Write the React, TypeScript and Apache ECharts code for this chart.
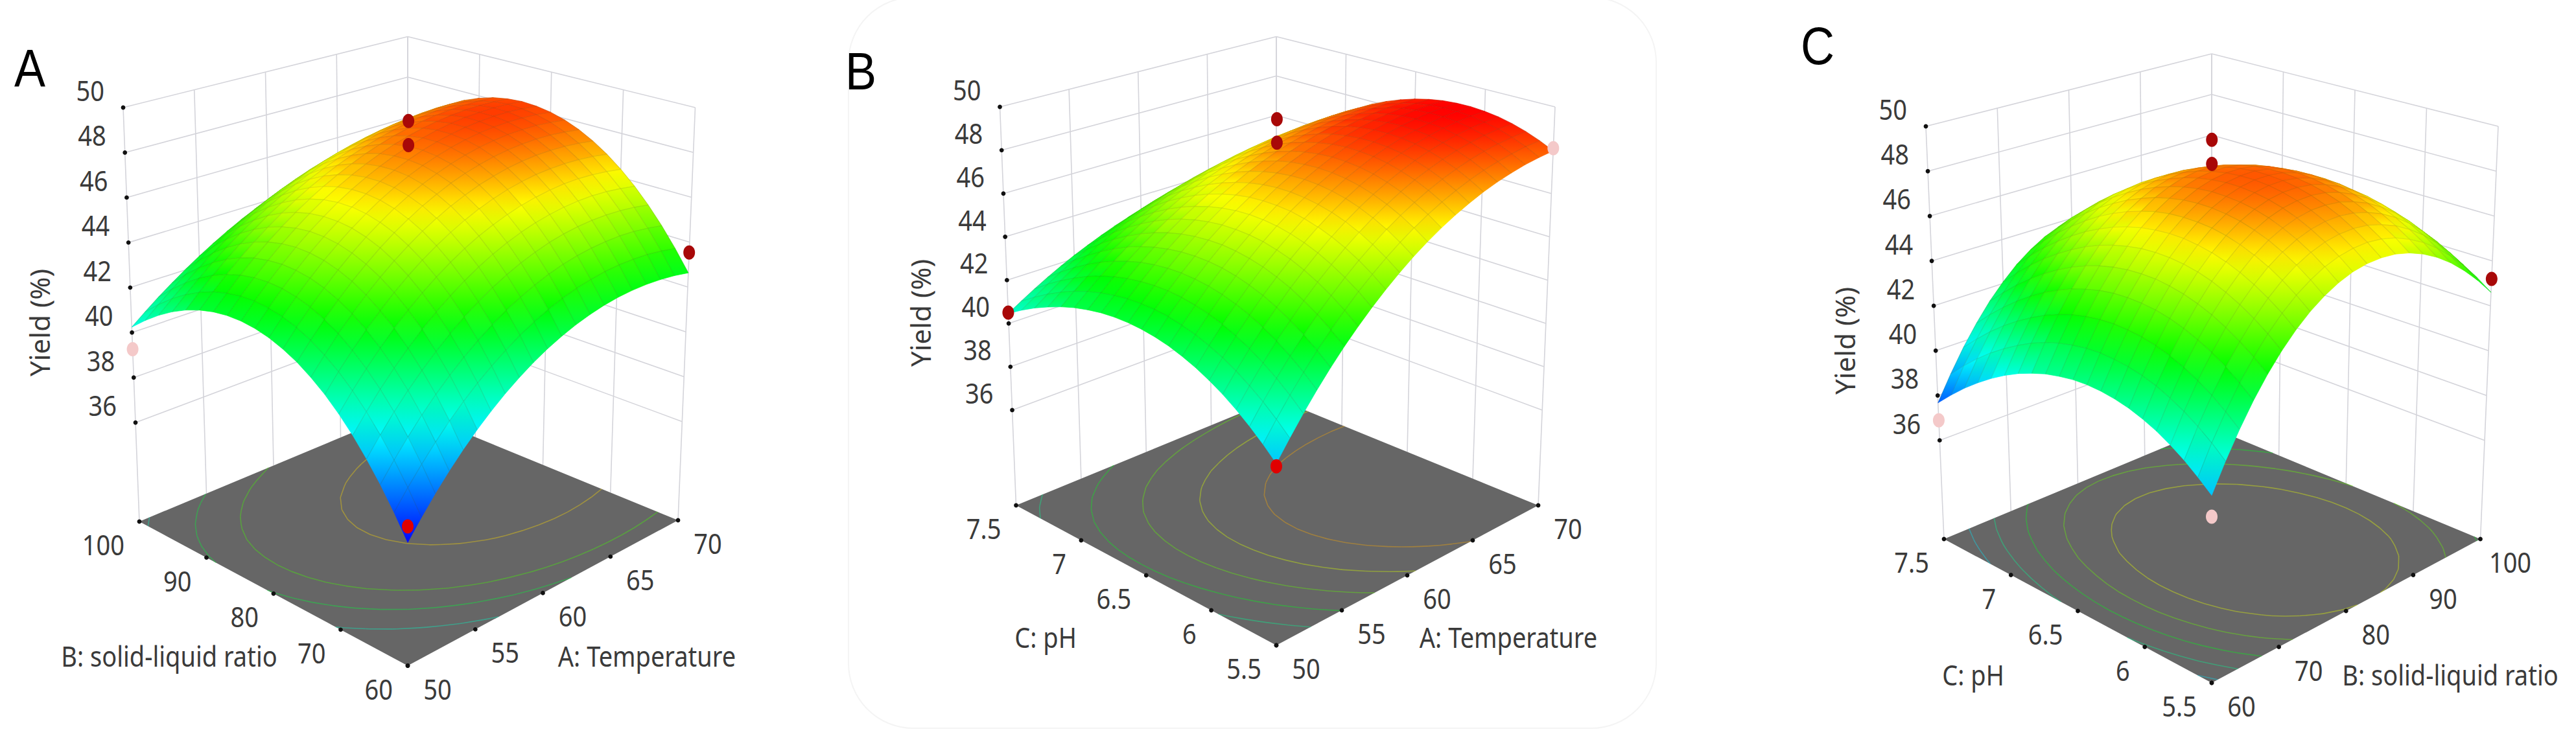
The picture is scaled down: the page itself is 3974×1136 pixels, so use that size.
import React, { useEffect, useRef } from 'react';
import * as echarts from 'echarts';

// yield (%), rows run along the left floor axis,
// columns along the right floor axis (21 x 21 mesh like the original plot)
const surfaceA: number[][] = [
  [36.49,37.23,37.93,38.58,39.19,39.75,40.26,40.73,41.15,41.53,41.86,42.14,42.38,42.57,42.72,42.82,42.87,42.88,42.84,42.76,42.63],
  [37.43,38.17,38.86,39.51,40.12,40.68,41.19,41.65,42.07,42.45,42.78,43.06,43.30,43.49,43.63,43.73,43.78,43.79,43.75,43.66,43.53],
  [38.29,39.03,39.72,40.37,40.97,41.52,42.03,42.49,42.91,43.29,43.61,43.89,44.13,44.32,44.46,44.56,44.61,44.62,44.58,44.49,44.36],
  [39.07,39.80,40.50,41.14,41.73,42.28,42.79,43.25,43.67,44.04,44.36,44.64,44.87,45.07,45.21,45.30,45.35,45.36,45.32,45.24,45.11],
  [39.78,40.50,41.19,41.83,42.42,42.97,43.47,43.93,44.34,44.71,45.03,45.31,45.54,45.73,45.87,45.97,46.02,46.03,45.99,45.90,45.78],
  [40.40,41.12,41.80,42.43,43.02,43.56,44.06,44.51,44.92,45.29,45.61,45.88,46.11,46.30,46.44,46.54,46.60,46.61,46.57,46.49,46.37],
  [40.95,41.66,42.33,42.95,43.53,44.07,44.57,45.02,45.42,45.78,46.10,46.38,46.61,46.80,46.94,47.04,47.09,47.10,47.07,47.00,46.88],
  [41.41,42.11,42.78,43.39,43.97,44.50,44.99,45.43,45.84,46.19,46.51,46.78,47.02,47.20,47.35,47.45,47.51,47.52,47.49,47.42,47.31],
  [41.80,42.49,43.14,43.75,44.32,44.84,45.33,45.77,46.16,46.52,46.83,47.11,47.34,47.52,47.67,47.77,47.83,47.85,47.83,47.76,47.66],
  [42.10,42.79,43.43,44.03,44.58,45.10,45.58,46.01,46.41,46.76,47.07,47.34,47.57,47.76,47.91,48.01,48.08,48.10,48.09,48.03,47.93],
  [42.33,43.00,43.63,44.22,44.77,45.28,45.75,46.18,46.57,46.92,47.23,47.50,47.72,47.91,48.06,48.17,48.24,48.27,48.26,48.21,48.12],
  [42.48,43.13,43.75,44.33,44.87,45.37,45.83,46.26,46.64,46.99,47.29,47.56,47.79,47.98,48.13,48.25,48.32,48.36,48.36,48.31,48.23],
  [42.55,43.19,43.79,44.36,44.89,45.38,45.83,46.25,46.63,46.97,47.27,47.54,47.77,47.96,48.12,48.24,48.32,48.36,48.37,48.34,48.27],
  [42.54,43.16,43.75,44.30,44.82,45.30,45.75,46.16,46.53,46.87,47.17,47.44,47.67,47.86,48.02,48.14,48.23,48.28,48.30,48.28,48.22],
  [42.45,43.05,43.63,44.17,44.67,45.14,45.58,45.98,46.35,46.68,46.98,47.25,47.48,47.68,47.84,47.97,48.06,48.12,48.15,48.14,48.10],
  [42.28,42.87,43.42,43.95,44.44,44.90,45.33,45.72,46.08,46.41,46.71,46.97,47.20,47.40,47.57,47.71,47.81,47.88,47.91,47.92,47.89],
  [42.03,42.60,43.14,43.64,44.12,44.57,44.99,45.37,45.73,46.05,46.35,46.61,46.85,47.05,47.22,47.36,47.47,47.55,47.60,47.62,47.61],
  [41.70,42.25,42.77,43.26,43.72,44.16,44.56,44.94,45.29,45.61,45.90,46.17,46.40,46.61,46.78,46.93,47.05,47.14,47.20,47.24,47.24],
  [41.29,41.82,42.32,42.79,43.24,43.66,44.06,44.43,44.77,45.08,45.37,45.64,45.87,46.08,46.26,46.42,46.55,46.65,46.73,46.78,46.80],
  [40.80,41.31,41.79,42.24,42.68,43.08,43.47,43.83,44.16,44.47,44.76,45.02,45.26,45.47,45.66,45.82,45.96,46.08,46.17,46.24,46.28],
  [40.24,40.72,41.18,41.61,42.03,42.42,42.79,43.14,43.47,43.77,44.06,44.32,44.56,44.77,44.97,45.14,45.29,45.42,45.53,45.61,45.68],
];

const surfaceB: number[][] = [
  [39.15,39.96,40.74,41.48,42.18,42.84,43.45,44.03,44.57,45.07,45.54,45.96,46.34,46.68,46.98,47.25,47.47,47.65,47.80,47.90,47.97],
  [39.70,40.50,41.27,41.99,42.68,43.32,43.93,44.50,45.02,45.51,45.96,46.37,46.74,47.07,47.36,47.61,47.82,47.99,48.12,48.22,48.27],
  [40.20,40.99,41.74,42.45,43.12,43.76,44.35,44.90,45.42,45.89,46.33,46.72,47.08,47.40,47.68,47.92,48.12,48.28,48.40,48.48,48.52],
  [40.65,41.42,42.16,42.86,43.51,44.13,44.71,45.25,45.76,46.22,46.64,47.02,47.37,47.68,47.94,48.17,48.36,48.51,48.62,48.69,48.72],
  [41.05,41.81,42.53,43.21,43.85,44.46,45.02,45.55,46.04,46.49,46.90,47.27,47.60,47.89,48.15,48.37,48.54,48.68,48.78,48.84,48.87],
  [41.39,42.14,42.84,43.51,44.14,44.72,45.28,45.79,46.26,46.70,47.10,47.46,47.78,48.06,48.30,48.51,48.68,48.81,48.90,48.95,48.96],
  [41.69,42.41,43.10,43.75,44.36,44.94,45.47,45.97,46.43,46.85,47.24,47.59,47.89,48.17,48.40,48.60,48.75,48.87,48.96,49.00,49.01],
  [41.93,42.64,43.31,43.94,44.54,45.09,45.62,46.10,46.55,46.95,47.33,47.66,47.96,48.22,48.44,48.63,48.78,48.89,48.97,49.00,49.00],
  [42.13,42.81,43.46,44.08,44.66,45.20,45.70,46.17,46.60,47.00,47.36,47.68,47.97,48.22,48.43,48.61,48.75,48.85,48.92,48.95,48.95],
  [42.27,42.94,43.57,44.16,44.72,45.25,45.73,46.19,46.60,46.99,47.33,47.64,47.92,48.16,48.36,48.53,48.66,48.76,48.82,48.85,48.84],
  [42.36,43.01,43.62,44.19,44.73,45.24,45.71,46.15,46.55,46.92,47.25,47.55,47.81,48.04,48.24,48.40,48.52,48.61,48.67,48.69,48.68],
  [42.40,43.02,43.61,44.17,44.69,45.18,45.63,46.05,46.44,46.79,47.11,47.40,47.65,47.87,48.06,48.21,48.33,48.42,48.47,48.49,48.47],
  [42.39,42.99,43.55,44.09,44.59,45.06,45.50,45.90,46.27,46.61,46.92,47.19,47.44,47.65,47.82,47.97,48.08,48.16,48.21,48.23,48.21],
  [42.33,42.90,43.44,43.96,44.44,44.89,45.31,45.69,46.05,46.37,46.67,46.93,47.16,47.37,47.53,47.67,47.78,47.86,47.90,47.91,47.90],
  [42.21,42.76,43.28,43.77,44.23,44.66,45.06,45.43,45.77,46.08,46.36,46.61,46.83,47.03,47.19,47.32,47.42,47.49,47.54,47.55,47.53],
  [42.05,42.57,43.07,43.53,43.97,44.38,44.76,45.11,45.44,45.73,46.00,46.24,46.45,46.63,46.79,46.91,47.01,47.08,47.12,47.14,47.12],
  [41.83,42.33,42.80,43.24,43.65,44.04,44.40,44.74,45.05,45.33,45.58,45.81,46.01,46.18,46.33,46.45,46.55,46.61,46.65,46.67,46.65],
  [41.56,42.03,42.47,42.89,43.28,43.65,43.99,44.31,44.60,44.87,45.11,45.32,45.51,45.68,45.82,45.94,46.03,46.09,46.13,46.15,46.13],
  [41.25,41.68,42.10,42.49,42.86,43.20,43.53,43.82,44.10,44.35,44.58,44.78,44.96,45.12,45.25,45.36,45.45,45.52,45.56,45.57,45.57],
  [40.88,41.28,41.67,42.04,42.38,42.70,43.00,43.28,43.54,43.77,43.99,44.18,44.35,44.50,44.63,44.74,44.82,44.89,44.93,44.95,44.95],
  [40.46,40.83,41.19,41.53,41.85,42.15,42.42,42.68,42.92,43.14,43.35,43.53,43.69,43.83,43.95,44.06,44.14,44.20,44.25,44.27,44.28],
];

const surfaceC: number[][] = [
  [39.10,40.23,41.26,42.20,43.03,43.76,44.39,44.92,45.34,45.67,45.90,46.02,46.04,45.97,45.79,45.51,45.13,44.65,44.06,43.38,42.60],
  [39.58,40.72,41.75,42.68,43.51,44.24,44.87,45.39,45.81,46.14,46.36,46.48,46.51,46.43,46.25,45.96,45.59,45.10,44.51,43.82,43.04],
  [40.02,41.15,42.18,43.11,43.93,44.66,45.28,45.81,46.23,46.55,46.77,46.89,46.91,46.83,46.64,46.36,45.97,45.49,44.90,44.21,43.42],
  [40.39,41.52,42.55,43.48,44.29,45.02,45.64,46.17,46.58,46.90,47.12,47.24,47.26,47.17,46.98,46.70,46.31,45.82,45.23,44.54,43.75],
  [40.71,41.83,42.86,43.78,44.60,45.32,45.94,46.46,46.88,47.19,47.41,47.53,47.54,47.46,47.26,46.98,46.58,46.10,45.50,44.81,44.01],
  [40.96,42.09,43.11,44.03,44.84,45.57,46.18,46.70,47.11,47.43,47.64,47.75,47.77,47.68,47.48,47.19,46.80,46.31,45.71,45.01,44.22],
  [41.16,42.28,43.30,44.22,45.03,45.75,46.36,46.88,47.29,47.60,47.81,47.92,47.93,47.84,47.64,47.35,46.95,46.46,45.86,45.16,44.36],
  [41.29,42.41,43.43,44.35,45.15,45.87,46.48,47.00,47.40,47.71,47.92,48.03,48.04,47.94,47.74,47.45,47.05,46.55,45.95,45.25,44.45],
  [41.37,42.48,43.50,44.41,45.23,45.93,46.55,47.05,47.46,47.76,47.97,48.08,48.08,47.99,47.79,47.49,47.09,46.59,45.98,45.28,44.47],
  [41.39,42.51,43.52,44.42,45.23,45.94,46.55,47.05,47.46,47.77,47.97,48.07,48.08,47.97,47.77,47.46,47.07,46.56,45.96,45.25,44.45],
  [41.35,42.46,43.47,44.38,45.18,45.89,46.49,47.00,47.40,47.70,47.90,48.00,48.00,47.90,47.69,47.39,46.98,46.48,45.87,45.16,44.35],
  [41.24,42.35,43.36,44.27,45.07,45.77,46.38,46.88,47.27,47.57,47.77,47.87,47.87,47.76,47.56,47.25,46.85,46.33,45.72,45.01,44.20],
  [41.09,42.19,43.20,44.09,44.90,45.60,46.20,46.69,47.10,47.39,47.59,47.69,47.68,47.57,47.36,47.06,46.64,46.13,45.52,44.81,43.99],
  [40.86,41.97,42.97,43.87,44.67,45.37,45.97,46.46,46.85,47.15,47.34,47.43,47.43,47.32,47.11,46.79,46.39,45.87,45.25,44.53,43.72],
  [40.59,41.69,42.69,43.58,44.38,45.08,45.67,46.16,46.56,46.85,47.04,47.13,47.12,47.00,46.79,46.48,46.06,45.54,44.93,44.21,43.39],
  [40.25,41.34,42.34,43.24,44.03,44.72,45.32,45.81,46.19,46.48,46.68,46.76,46.75,46.63,46.42,46.10,45.69,45.16,44.54,43.82,43.01],
  [39.85,40.94,41.94,42.83,43.62,44.31,44.90,45.39,45.78,46.06,46.25,46.34,46.32,46.21,45.98,45.67,45.24,44.73,44.10,43.38,42.55],
  [39.39,40.49,41.48,42.36,43.15,43.85,44.43,44.91,45.30,45.59,45.77,45.85,45.84,45.71,45.49,45.17,44.75,44.22,43.60,42.87,42.05],
  [38.88,39.97,40.96,41.84,42.63,43.31,43.90,44.38,44.77,45.05,45.23,45.31,45.29,45.16,44.94,44.61,44.19,43.66,43.04,42.31,41.48],
  [38.30,39.39,40.37,41.26,42.04,42.72,43.31,43.79,44.16,44.45,44.63,44.71,44.68,44.55,44.33,44.00,43.58,43.04,42.41,41.69,40.86],
  [37.67,38.74,39.73,40.61,41.40,42.07,42.66,43.13,43.51,43.78,43.97,44.04,44.01,43.89,43.66,43.33,42.90,42.37,41.73,41.00,40.17],
];

const yieldTicks = [36, 38, 40, 42, 44, 46, 48, 50];
const tempTicks = [50, 55, 60, 65, 70];
const ratioTicks = [60, 70, 80, 90, 100];
const phTicks = [5.5, 6, 6.5, 7, 7.5];

// design points: [right axis value, left axis value, yield, kind]
// kind 0 = above surface, 1 = below surface, 2 = bright corner marker
const pointsA = [[60, 80, 49.67, 0], [60, 80, 48.6, 0], [50, 60, 37.13, 2], [50, 100, 39.26, 1], [70, 60, 43.54, 0]];
const pointsB = [[60, 6.5, 49.72, 0], [60, 6.5, 48.64, 0], [50, 5.5, 39.03, 2], [50, 7.5, 40.5, 0], [70, 5.5, 48.09, 1]];
const pointsC = [[80, 6.5, 49.67, 0], [80, 6.5, 48.6, 0], [60, 5.5, 38.25, 1], [60, 7.5, 36.89, 1], [100, 5.5, 43.2, 0]];

const contoursA = [46.7, 43.95, 42.4, 40.6];
const contoursB = [47.2, 45.8, 44.3, 42.8, 41.2];
const contoursC = [46, 44.4, 42.8, 41.2, 39.6];

const colorLevels = [36.4, 39.9, 43.1, 46.3, 49];
const colorValues = [[0, 0, 255], [0, 255, 255], [0, 255, 0], [255, 255, 0], [255, 0, 0]];
const pointColors = ['#a80808', '#f4c9c9', '#e00000'];

const Z_MIN = 31.6;
const Z_MAX = 50;
const TEXT = '#3a3a3a';
const WALL = '#d4d4da';
const FONT = '"Noto Sans"';

type Pt = [number, number];
interface Panel {
  letter: string;
  letterPos: Pt;
  floor: Pt[]; // front, right, left, back
  top: Pt[];
  surface: number[][];
  rightTicks: number[];
  leftTicks: number[];
  rightName: string;
  leftName: string;
  rightNamePos: Pt;
  leftNamePos: Pt;
  yieldPos: Pt;
  points: number[][];
  contours: number[];
}

const panels: Panel[] = [
  {
    letter: 'A', letterPos: [46, 104],
    floor: [[629, 1027.5], [1046, 803], [215, 805], [629, 632]],
    top: [[629, 312], [1072.5, 166], [190, 166], [629, 56.5]],
    surface: surfaceA, rightTicks: tempTicks, leftTicks: ratioTicks,
    rightName: 'A: Temperature', leftName: 'B: solid-liquid ratio',
    rightNamePos: [998, 1012], leftNamePos: [261, 1012], yieldPos: [60, 498],
    points: pointsA, contours: contoursA,
  },
  {
    letter: 'B', letterPos: [1328, 109],
    floor: [[1969, 996], [2373, 780], [1567.5, 780], [1969, 615]],
    top: [[1969, 312], [2399, 165], [1542.5, 165], [1969, 56.5]],
    surface: surfaceB, rightTicks: tempTicks, leftTicks: phTicks,
    rightName: 'A: Temperature', leftName: 'C: pH',
    rightNamePos: [2327, 983], leftNamePos: [1613, 983], yieldPos: [1419, 483],
    points: pointsB, contours: contoursB,
  },
  {
    letter: 'C', letterPos: [2804, 70],
    floor: [[3412, 1054], [3826.5, 832], [2999, 832], [3412, 660]],
    top: [[3412, 344], [3854, 195], [2971, 195], [3412, 83]],
    surface: surfaceC, rightTicks: ratioTicks, leftTicks: phTicks,
    rightName: 'B: solid-liquid ratio', leftName: 'C: pH',
    rightNamePos: [3780, 1041], leftNamePos: [3044, 1041], yieldPos: [2845, 526],
    points: pointsC, contours: contoursC,
  },
];

const bilinear = (c: Pt[], u: number, v: number): Pt => {
  const a = (1 - u) * (1 - v), b = u * (1 - v), d = (1 - u) * v, e = u * v;
  return [
    c[0][0] * a + c[1][0] * b + c[2][0] * d + c[3][0] * e,
    c[0][1] * a + c[1][1] * b + c[2][1] * d + c[3][1] * e,
  ];
};

// u runs front->right, v runs front->left, z is the yield
const project = (p: Panel, u: number, v: number, z: number): Pt => {
  const f = bilinear(p.floor, u, v);
  const t = bilinear(p.top, u, v);
  const w = (z - Z_MIN) / (Z_MAX - Z_MIN);
  return [f[0] + (t[0] - f[0]) * w, f[1] + (t[1] - f[1]) * w];
};

const colorAt = (z: number) => {
  let i = 0;
  while (i < colorLevels.length - 2 && z > colorLevels[i + 1]) i++;
  const t = Math.min(1, Math.max(0, (z - colorLevels[i]) / (colorLevels[i + 1] - colorLevels[i])));
  const a = colorValues[i], b = colorValues[i + 1];
  return `rgb(${Math.round(a[0] + (b[0] - a[0]) * t)},${Math.round(a[1] + (b[1] - a[1]) * t)},${Math.round(a[2] + (b[2] - a[2]) * t)})`;
};

const fraction = (ticks: number[], value: number) => (value - ticks[0]) / (ticks[ticks.length - 1] - ticks[0]);

const contourSegments = (s: number[][], level: number) => {
  const n = s.length - 1;
  const out: number[][] = [];
  for (let j = 0; j < n; j++) {
    for (let i = 0; i < n; i++) {
      const corners = [[i, j, s[j][i]], [i + 1, j, s[j][i + 1]], [i + 1, j + 1, s[j + 1][i + 1]], [i, j + 1, s[j + 1][i]]];
      const hits: number[][] = [];
      for (let k = 0; k < 4; k++) {
        const a = corners[k], b = corners[(k + 1) % 4];
        if ((a[2] < level) !== (b[2] < level)) {
          const t = (level - a[2]) / (b[2] - a[2]);
          hits.push([(a[0] + (b[0] - a[0]) * t) / n, (a[1] + (b[1] - a[1]) * t) / n]);
        }
      }
      if (hits.length >= 2) out.push([hits[0][0], hits[0][1], hits[1][0], hits[1][1]]);
      if (hits.length === 4) out.push([hits[2][0], hits[2][1], hits[3][0], hits[3][1]]);
    }
  }
  return out;
};

const textEl = (api: any, pos: Pt, text: string, size: number, align: string, rotation = 0, family = FONT) => {
  const c = api.coord(pos);
  return {
    type: 'text', x: c[0], y: c[1], rotation,
    // the original picture is stretched a little in height
    scaleY: rotation ? 1 : 1.14,
    style: { text, fontSize: size, fontFamily: family, fill: TEXT, align, verticalAlign: 'middle' },
  };
};

const frameRender = (p: Panel) => (_: any, api: any) => {
  const at = (u: number, v: number, z: number) => api.coord(project(p, u, v, z));
  const line = (a: number[], b: number[], stroke = WALL, lineWidth = 1.6, opacity = 1) => ({
    type: 'line', shape: { x1: a[0], y1: a[1], x2: b[0], y2: b[1] }, style: { stroke, lineWidth, opacity },
  });
  const children: any[] = [];
  // walls
  yieldTicks.forEach((z) => {
    children.push(line(at(0, 1, z), at(1, 1, z)));
    children.push(line(at(1, 1, z), at(1, 0, z)));
  });
  p.rightTicks.forEach((t) => {
    const u = fraction(p.rightTicks, t);
    children.push(line(at(u, 1, Z_MIN), at(u, 1, Z_MAX)));
  });
  p.leftTicks.forEach((t) => {
    const v = fraction(p.leftTicks, t);
    children.push(line(at(1, v, Z_MIN), at(1, v, Z_MAX)));
  });
  // floor and its contours
  children.push({
    type: 'polygon',
    shape: { points: [at(0, 0, Z_MIN), at(1, 0, Z_MIN), at(1, 1, Z_MIN), at(0, 1, Z_MIN)] },
    style: { fill: '#666666' },
  });
  p.contours.forEach((level) => {
    contourSegments(p.surface, level).forEach((s) => {
      children.push(line(at(s[0], s[1], Z_MIN), at(s[2], s[3], Z_MIN), colorAt(level), 1.6, 0.38));
    });
  });
  // tick marks
  const dot = (c: number[]) => ({ type: 'circle', shape: { cx: c[0], cy: c[1], r: 3.4 }, style: { fill: '#111' } });
  yieldTicks.forEach((z) => children.push(dot(at(0, 1, z))));
  p.rightTicks.forEach((t) => children.push(dot(at(fraction(p.rightTicks, t), 0, Z_MIN))));
  p.leftTicks.forEach((t) => children.push(dot(at(0, fraction(p.leftTicks, t), Z_MIN))));
  return { type: 'group', children };
};

const labelRender = (p: Panel) => (_: any, api: any) => {
  const children: any[] = [];
  yieldTicks.forEach((z) => {
    const c = project(p, 0, 1, z);
    children.push(textEl(api, [c[0] - 29, c[1] - 27], String(z), 38, 'right'));
  });
  p.rightTicks.forEach((t) => {
    const c = project(p, fraction(p.rightTicks, t), 0, Z_MIN);
    children.push(textEl(api, [c[0] + 46, c[1] + 35], String(t), 38, 'center'));
  });
  p.leftTicks.forEach((t) => {
    const c = project(p, 0, fraction(p.leftTicks, t), Z_MIN);
    children.push(textEl(api, [c[0] - 23, c[1] + 35], String(t), 38, 'right'));
  });
  children.push(textEl(api, p.rightNamePos, p.rightName, 38, 'center'));
  children.push(textEl(api, p.leftNamePos, p.leftName, 38, 'center'));
  children.push(textEl(api, p.yieldPos, 'Yield (%)', 42, 'center', Math.PI / 2));
  children.push(textEl(api, p.letterPos, p.letter, 72, 'center', 0, '"Liberation Sans"'));
  children[children.length - 1].style.fill = '#000';
  return { type: 'group', children };
};

const cellData = (p: Panel) => {
  const n = p.surface.length - 1;
  const cells: number[][] = [];
  for (let j = 0; j < n; j++) for (let i = 0; i < n; i++) cells.push([i, j]);
  // painter's order, back corner first
  return cells.sort((a, b) => b[0] + b[1] - (a[0] + a[1]));
};

const cellRender = (p: Panel) => (_: any, api: any) => {
  const i = api.value(0), j = api.value(1);
  const n = p.surface.length - 1;
  const s = p.surface;
  const corner = (a: number, b: number) => {
    const z = s[b][a];
    return { z, c: api.coord(project(p, a / n, b / n, z)) as number[] };
  };
  const q = [corner(i, j), corner(i + 1, j), corner(i + 1, j + 1), corner(i, j + 1)];
  const sorted = [...q].sort((a, b) => a.c[1] - b.c[1]);
  const fill = new echarts.graphic.LinearGradient(0, 0, 0, 1, [
    { offset: 0, color: colorAt(sorted[0].z) },
    { offset: 1, color: colorAt(sorted[3].z) },
  ]);
  return {
    type: 'group',
    children: [
      {
        type: 'polygon',
        shape: { points: q.map((o) => o.c) },
        style: { fill, stroke: fill, lineWidth: 0.7 },
      },
      {
        type: 'polyline',
        shape: { points: [q[1].c, q[2].c, q[3].c] },
        style: { fill: 'none', stroke: 'rgba(70,70,30,0.14)', lineWidth: 1.3 },
      },
    ],
  };
};

const pointRender = (p: Panel) => (_: any, api: any) => {
  const u = fraction(p.rightTicks, api.value(0));
  const v = fraction(p.leftTicks, api.value(1));
  const c = api.coord(project(p, u, v, api.value(2)));
  const kind = api.value(3);
  return { type: 'ellipse', shape: { cx: c[0], cy: c[1], rx: 9, ry: 11 }, style: { fill: pointColors[kind] } };
};

const App: React.FC = () => {
  const chartRef = useRef<HTMLDivElement>(null);

  useEffect(() => {
    if (!chartRef.current) return;
    const chart = echarts.init(chartRef.current, undefined, { renderer: 'svg' });
    const series: any[] = [];
    panels.forEach((p) => {
      series.push({ type: 'custom', coordinateSystem: 'cartesian2d', clip: false, silent: true, data: [[0, 0]], renderItem: frameRender(p), z: 2 });
      series.push({ type: 'custom', coordinateSystem: 'cartesian2d', clip: false, silent: true, data: cellData(p), renderItem: cellRender(p), z: 3 });
      series.push({ type: 'custom', coordinateSystem: 'cartesian2d', clip: false, silent: true, data: p.points, renderItem: pointRender(p), z: 4 });
      series.push({ type: 'custom', coordinateSystem: 'cartesian2d', clip: false, silent: true, data: [[0, 0]], renderItem: labelRender(p), z: 5 });
    });
    chart.setOption({
      animation: false,
      backgroundColor: '#ffffff',
      grid: { left: 0, right: 0, top: 0, bottom: 0 },
      xAxis: { type: 'value', min: 0, max: 3974, show: false },
      yAxis: { type: 'value', min: 0, max: 1136, inverse: true, show: false },
      graphic: [
        {
          type: 'rect', z: 1,
          shape: { x: 1309, y: -4, width: 1246, height: 1128, r: 100 },
          style: { fill: '#ffffff', stroke: '#f4f4f4', lineWidth: 2 },
        },
      ],
      series,
    });
    return () => {
      chart.dispose();
    };
  }, []);

  return <div ref={chartRef} style={{ position: 'absolute', left: 0, top: 0, width: 3974, height: 1136 }} />;
};

export default App;
